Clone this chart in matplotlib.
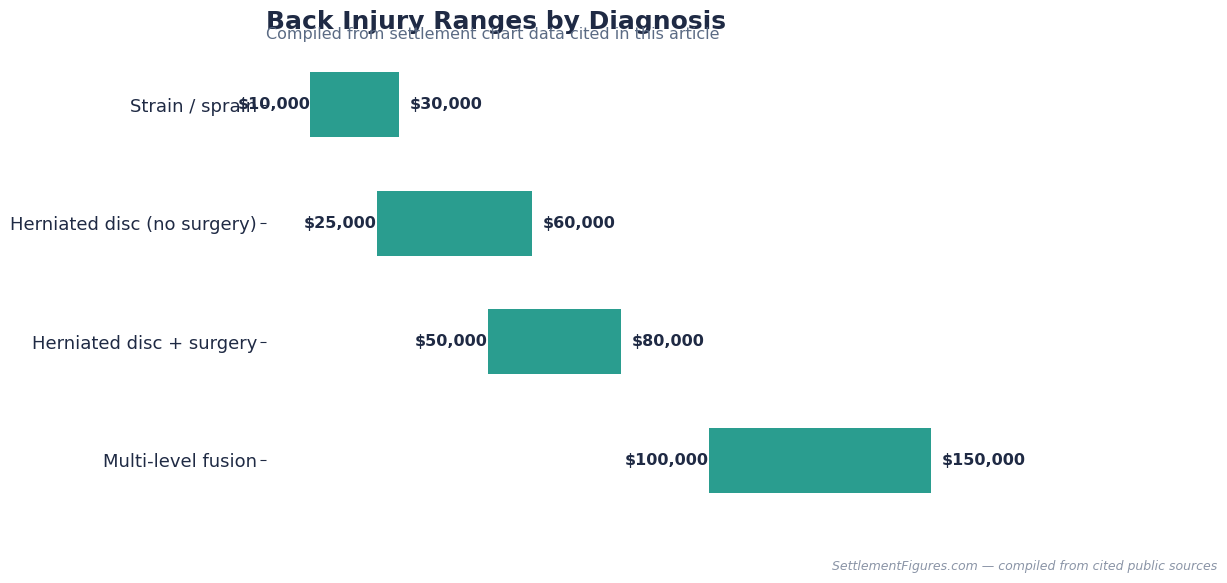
import matplotlib
matplotlib.use("Agg")
import matplotlib.pyplot as plt
import numpy as np

# data
diagnoses = ["Strain / sprain", "Herniated disc (no surgery)",
             "Herniated disc + surgery", "Multi-level fusion"]
low = [10000, 25000, 50000, 100000]
high = [30000, 60000, 80000, 150000]

dark = "#1f2a44"
teal = "#2a9d8f"

fig = plt.figure(figsize=(12.27, 5.83), dpi=100)
ax = fig.add_axes([0.2168, 0.109, 0.773, 0.813])

y = np.arange(len(diagnoses))
widths = [h - l for l, h in zip(low, high)]
ax.barh(y, widths, left=low, height=0.55, color=teal)

for yi, l, h in zip(y, low, high):
    ax.annotate(f"${l:,}", (l, yi), xytext=(0, 0), textcoords="offset points",
                ha="right", va="center", fontsize=11.5, fontweight="bold", color=dark)
    ax.annotate(f"${h:,}", (h, yi), xytext=(8, 0), textcoords="offset points",
                ha="left", va="center", fontsize=11.5, fontweight="bold", color=dark)

ax.set_yticks(y)
ax.set_yticklabels(diagnoses, fontsize=13, color=dark)
ax.set_ylim(len(diagnoses) - 0.5, -0.5)
ax.set_xlim(0, 214000)
ax.set_xticks([])
ax.tick_params(axis="y", length=4, color=dark, pad=2.5)
for s in ax.spines.values():
    s.set_visible(False)

fig.text(0.2168, 0.962, "Back Injury Ranges by Diagnosis", fontsize=18,
         fontweight="bold", color=dark, ha="left", va="center")
fig.text(0.2168, 0.941, "Compiled from settlement chart data cited in this article",
         fontsize=11.5, color="#5b6b84", ha="left", va="center")
fig.text(0.992, 0.029, "SettlementFigures.com \u2014 compiled from cited public sources",
         fontsize=9, style="italic", color="#8b95a7", ha="right", va="center")

fig.savefig("out.png", dpi=100)
